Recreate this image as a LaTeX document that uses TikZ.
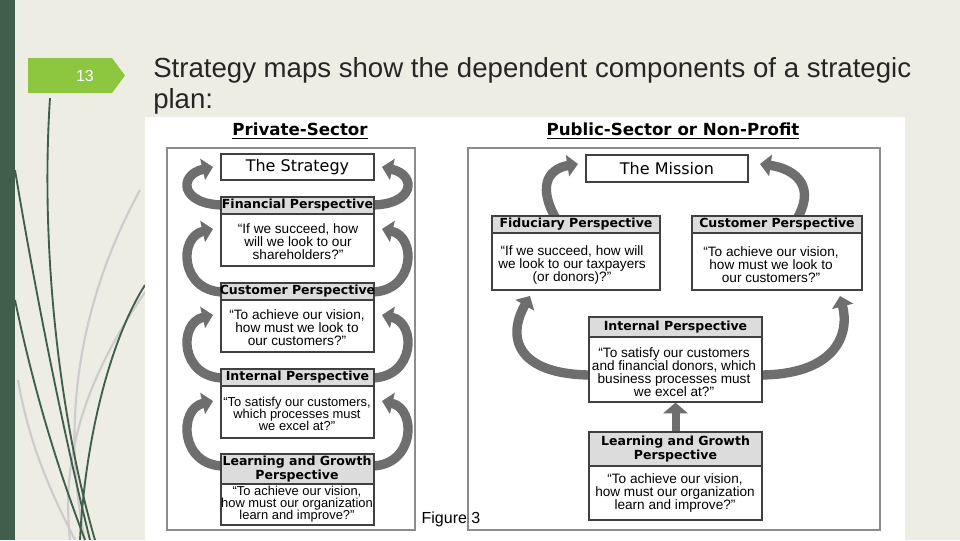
\documentclass[tikz,border=0pt]{standalone}
\usepackage{fontspec}
\setmainfont{Liberation Sans}
\newfontfamily\dv{DejaVu Sans}
\usetikzlibrary{arrows.meta,fit}
\definecolor{bgc}{HTML}{EEEDE3}
\definecolor{dgreen}{HTML}{3F5E4C}
\definecolor{lgreen}{HTML}{8DC63F}
\definecolor{arr}{HTML}{6E6E6E}
\definecolor{hdrc}{HTML}{DCDCDC}
\tikzset{
 box/.style={draw=black!75,line width=0.9pt,inner sep=0pt,fill=white},
 hdr/.style={draw=black!75,line width=0.9pt,inner sep=0pt,fill=hdrc},
 outer/.style={draw=black!45,line width=0.9pt,inner sep=0pt},
 ht/.style={font=\dv\bfseries\fontsize{9.4}{10.5}\selectfont,inner sep=0pt,align=center},
 bt/.style={font=\fontsize{10.2}{9.8}\selectfont,inner sep=0pt,align=center},
 bts/.style={font=\fontsize{9.7}{9.2}\selectfont,inner sep=0pt,align=center},
 big/.style={font=\dv\fontsize{12}{12}\selectfont,inner sep=0pt},
 carrow/.style={draw=arr,line width=7pt,-{Triangle[width=16pt,length=8pt]}},
 deco/.style={draw=dgreen,line width=1.4pt},
 decol/.style={draw=black!20,line width=1.6pt},
}
\begin{document}
\begin{tikzpicture}[x=0.75pt,y=-0.75pt]
\useasboundingbox (0,0) rectangle (960,540);
\fill[bgc] (0,0) rectangle (960,540);
\fill[dgreen] (0,0) rectangle (15,540);
% decorative curves
\draw[decol] (150,285) .. controls (90,370) and (60,450) .. (70,540);
\draw[decol] (140,190) .. controls (80,300) and (60,420) .. (85,540);
\draw[decol] (18,380) .. controls (30,450) and (55,500) .. (75,540);
\draw[deco] (50,98) .. controls (40,250) and (60,420) .. (95,540);
\draw[deco] (15,170) .. controls (40,320) and (70,460) .. (90,540);
\draw[deco] (145,285) .. controls (110,340) and (85,440) .. (80,540);
\draw[deco] (15,300) .. controls (40,420) and (70,500) .. (85,540);
% tab
\fill[lgreen] (28,58) -- (112,58) -- (125,75.5) -- (112,93) -- (28,93) -- cycle;
\node[text=white,font=\fontsize{12}{12}\selectfont] (num) at (85,76) {13};
\node[anchor=north west,inner sep=0pt,text=black!85,font=\fontsize{20.7}{23.5}\selectfont,align=left] (title) at (153,57) {Strategy maps show the dependent components of a strategic\\plan:};
% image area
\fill[white] (145,117) rectangle (905,540);
\node[font=\dv\bfseries\fontsize{12.5}{12.5}\selectfont,inner sep=0pt] (lh) at (300,131) {\underline{Private-Sector}};
\node[font=\dv\bfseries\fontsize{12.5}{12.5}\selectfont,inner sep=0pt] (rh) at (673,131) {\underline{Public-Sector or Non-Profit}};
\node[outer,fit={(167,148)(415,530)}] (lo) {};
\node[outer,fit={(468,148)(880,530)}] (ro) {};
% left arrows (under boxes)
\foreach \s/\t in {205/167,292/229,378/315,466/401}{
 \draw[carrow] (224,\s) .. controls (180,\s) and (178,\t+8) .. (213,\t);
 \draw[carrow] (371,\s) .. controls (415,\s) and (417,\t+8) .. (382,\t);
}
% left boxes
\node[box,fit={(221,154)(374,180)}] (ls) {};
\node[big] (lst) at (ls) {The Strategy};
\node[box,fit={(221,197)(374,266)}] (lf) {};
\node[hdr,fit={(221,197)(374,214)}] (lfh) {};
\node[ht] (lfht) at (lfh) {Financial Perspective};
\node[bt] (lfb) at (298,242) {“If we succeed, how\\will we look to our\\shareholders?”};
\node[box,fit={(221,283)(374,352)}] (lc) {};
\node[hdr,fit={(221,283)(374,300)}] (lch) {};
\node[ht] (lcht) at (lch) {Customer Perspective};
\node[bt] (lcb) at (297,328) {“To achieve our vision,\\how must we look to\\our customers?”};
\node[box,fit={(221,369)(374,438)}] (li) {};
\node[hdr,fit={(221,369)(374,386)}] (lih) {};
\node[ht] (liht) at (lih) {Internal Perspective};
\node[bts] (lib) at (297,414) {“To satisfy our customers,\\which processes must\\we excel at?”};
\node[box,fit={(221,454)(374,525)}] (ll) {};
\node[hdr,fit={(221,454)(374,484)}] (llh) {};
\node[ht] (llht) at (297,469) {Learning and Growth\\Perspective};
\node[bts] (llb) at (297,504) {“To achieve our vision,\\how must our organization\\learn and improve?”};
% right arrows
\draw[carrow] (555,217) .. controls (536,182) and (552,168) .. (578,164);
\draw[carrow] (798,217) .. controls (817,182) and (790,168) .. (760,164);
\draw[carrow] (592,375) .. controls (520,375) and (505,340) .. (530,296);
\draw[carrow] (759,375) .. controls (835,375) and (850,335) .. (840,296);
% right boxes
\node[box,fit={(586,155)(748,182)}] (rm) {};
\node[big] (rmt) at (rm) {The Mission};
\node[box,fit={(492,216)(660,290)}] (rf) {};
\node[hdr,fit={(492,216)(660,233)}] (rfh) {};
\node[ht] (rfht) at (rfh) {Fiduciary Perspective};
\node[bt] (rfb) at (572,265) {“If we succeed, how will\\we look to our taxpayers\\(or donors)?”};
\node[box,fit={(692,216)(862,290)}] (rc) {};
\node[hdr,fit={(692,216)(862,233)}] (rch) {};
\node[ht] (rcht) at (rch) {Customer Perspective};
\node[bt] (rcb) at (771,265) {“To achieve our vision,\\how must we look to\\our customers?”};
\node[box,fit={(589,317)(762,402)}] (ri) {};
\node[hdr,fit={(589,317)(762,337)}] (rih) {};
\node[ht] (riht) at (rih) {Internal Perspective};
\node[bt] (rib) at (674,372) {“To satisfy our customers\\and financial donors, which\\business processes must\\we excel at?”};
\node[box,fit={(589,432)(762,520)}] (rl) {};
\node[hdr,fit={(589,432)(762,466)}] (rlh) {};
\node[ht] (rlht) at (rlh) {Learning and Growth\\Perspective};
\node[bt] (rlb) at (675,493) {“To achieve our vision,\\how must our organization\\learn and improve?”};
\draw[draw=arr,line width=6pt,-{Triangle[width=18pt,length=8pt]}] (rl.north) -- (ri.south);
\node[font=\fontsize{12}{12}\selectfont,inner sep=0pt] (fig) at (451,519) {Figure 3};
\end{tikzpicture}
\end{document}
